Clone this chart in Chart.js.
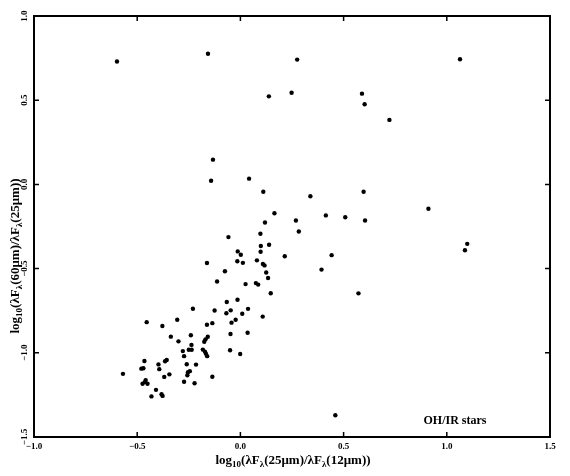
<!DOCTYPE html>
<html><head><meta charset="utf-8">
<script src="https://cdn.jsdelivr.net/npm/chart.js@4/dist/chart.umd.min.js"></script>
<style>html,body{margin:0;padding:0;background:#fff}#wrap{width:570px;height:476px}</style>
</head><body><div id="wrap"><canvas id="c" width="570" height="476"></canvas></div>
<script>
// log10(λFλ(25μm)/λFλ(12μm))
const xColor = [
 -0.598,-0.157,0.275,0.138,0.248,1.064,0.589,0.602,0.722,-0.133,-0.142,0.042,0.111,0.339,0.597,0.911,
 0.269,0.283,0.414,0.508,0.604,1.088,1.099,0.442,0.393,0.572,0.460,
 0.165,0.119,-0.058,0.097,0.099,0.139,-0.013,0.002,0.098,0.215,-0.015,0.012,0.080,0.109,0.117,-0.162,
 -0.075,0.125,0.134,-0.113,0.025,0.075,0.086,0.147,-0.066,-0.014,-0.230,-0.125,-0.068,-0.047,0.037,0.009,
 0.108,-0.023,-0.043,-0.454,-0.378,-0.306,-0.162,-0.136,-0.048,0.035,-0.337,-0.300,-0.240,-0.237,-0.158,
 -0.169,-0.175,-0.250,-0.236,-0.279,-0.273,-0.182,-0.172,-0.167,-0.161,-0.050,-0.001,-0.465,-0.470,-0.480,
 -0.397,-0.365,-0.357,-0.393,-0.260,-0.215,-0.344,-0.369,-0.569,-0.459,-0.474,-0.450,-0.463,-0.254,-0.245,
 -0.257,-0.273,-0.222,-0.136,-0.409,-0.431,-0.382,-0.377
];
// log10(λFλ(60μm)/λFλ(25μm))
const yColor = [
 0.730,0.776,0.741,0.523,0.544,0.743,0.539,0.476,0.383,0.147,0.022,0.034,-0.044,-0.070,-0.044,-0.145,
 -0.214,-0.280,-0.184,-0.195,-0.214,-0.391,-0.353,-0.420,-0.506,-0.647,-1.371,
 -0.171,-0.226,-0.313,-0.293,-0.366,-0.358,-0.398,-0.418,-0.400,-0.427,-0.456,-0.466,-0.451,-0.473,-0.481,-0.467,
 -0.516,-0.523,-0.556,-0.577,-0.592,-0.586,-0.595,-0.646,-0.698,-0.685,-0.738,-0.749,-0.765,-0.748,-0.739,-0.768,
 -0.785,-0.804,-0.821,-0.818,-0.841,-0.804,-0.833,-0.824,-0.888,-0.881,-0.904,-0.932,-0.896,-0.953,-0.905,
 -0.920,-0.934,-0.982,-0.982,-0.990,-1.020,-0.981,-0.993,-1.005,-1.020,-0.985,-1.007,-1.049,-1.092,-1.094,
 -1.069,-1.050,-1.043,-1.097,-1.068,-1.070,-1.128,-1.143,-1.125,-1.162,-1.184,-1.184,-1.174,-1.115,-1.109,
 -1.133,-1.172,-1.181,-1.142,-1.220,-1.259,-1.246,-1.256
];
const xTickValues = [-1.0, -0.5, 0.0, 0.5, 1.0, 1.5];
const yTickValues = [-1.5, -1.0, -0.5, 0.0, 0.5, 1.0];
const xTitleParts = [['log',0],['10',1],['(\u03bbF',0],['\u03bb',1],['(25\u03bcm)/\u03bbF',0],['\u03bb',1],['(12\u03bcm))',0]];
const yTitleParts = [['log',0],['10',1],['(\u03bbF',0],['\u03bb',1],['(60\u03bcm)/\u03bbF',0],['\u03bb',1],['(25\u03bcm))',0]];
const panelLabel = 'OH/IR stars';

const points = xColor.map((x, i) => ({x: x, y: yColor[i]}));
const fmt = v => { const s = Math.abs(v).toFixed(1); return v < -1e-9 ? '\u2212' + s : s; };
const FONT = '"Liberation Serif", "DejaVu Serif", serif';

function drawRich(ctx, parts, cx, cy, rot, size) {
  ctx.save();
  ctx.translate(cx, cy); ctx.rotate(rot);
  const mainF = 'bold ' + size + 'px ' + FONT;
  const subF = 'bold ' + Math.round(size * 0.68) + 'px ' + FONT;
  let w = 0;
  parts.forEach(p => { ctx.font = p[1] ? subF : mainF; w += ctx.measureText(p[0]).width; });
  let x = -w / 2;
  ctx.fillStyle = '#000'; ctx.textBaseline = 'alphabetic'; ctx.textAlign = 'left';
  parts.forEach(p => {
    ctx.font = p[1] ? subF : mainF;
    ctx.fillText(p[0], x, p[1] ? size * 0.35 + size * 0.3 : size * 0.35);
    x += ctx.measureText(p[0]).width;
  });
  ctx.restore();
}

const framePlugin = {
  id: 'frame',
  afterDraw(chart) {
    const ctx = chart.ctx, a = chart.chartArea, sx = chart.scales.x, sy = chart.scales.y;
    ctx.save();
    ctx.strokeStyle = '#000'; ctx.lineWidth = 2;
    ctx.strokeRect(a.left, a.top, a.right - a.left, a.bottom - a.top);
    ctx.lineWidth = 1.5;
    ctx.beginPath();
    xTickValues.forEach(v => { const p = sx.getPixelForValue(v);
      ctx.moveTo(p, a.bottom); ctx.lineTo(p, a.bottom - 5);
      ctx.moveTo(p, a.top); ctx.lineTo(p, a.top + 5); });
    yTickValues.forEach(v => { const p = sy.getPixelForValue(v);
      ctx.moveTo(a.left, p); ctx.lineTo(a.left + 5, p);
      ctx.moveTo(a.right, p); ctx.lineTo(a.right - 5, p); });
    ctx.stroke();
    drawRich(ctx, xTitleParts, 293, 459, 0, 13);
    drawRich(ctx, yTitleParts, 14, 256, -Math.PI / 2, 13);
    ctx.font = 'bold 12px ' + FONT; ctx.fillStyle = '#000';
    ctx.textAlign = 'center'; ctx.textBaseline = 'middle';
    ctx.fillText(panelLabel, 455, 421);
    ctx.restore();
  }
};

new Chart(document.getElementById('c'), {
  type: 'scatter',
  data: { datasets: [{ data: points, backgroundColor: '#000', borderWidth: 0, pointRadius: 2.2, pointHoverRadius: 2.2 }] },
  options: {
    responsive: false, animation: false, devicePixelRatio: 1,
    layout: { padding: { top: 16, right: 20, left: 0, bottom: 0 } },
    plugins: { legend: { display: false }, tooltip: { enabled: false } },
    scales: {
      x: { type: 'linear', min: -1.0, max: 1.5,
        afterBuildTicks: s => { s.ticks = xTickValues.map(v => ({ value: v })); },
        afterFit: s => { s.height = 39; },
        grid: { display: false, drawTicks: false }, border: { display: false },
        ticks: { callback: v => fmt(v), color: '#000', padding: 4, maxRotation: 0, autoSkip: false,
          font: { family: FONT, weight: 'bold', size: 9 } } },
      y: { type: 'linear', min: -1.5, max: 1.0,
        afterBuildTicks: s => { s.ticks = yTickValues.map(v => ({ value: v })); },
        afterFit: s => { s.width = 34; },
        grid: { display: false, drawTicks: false }, border: { display: false },
        ticks: { callback: v => fmt(v), color: '#000', padding: 1, minRotation: 90, maxRotation: 90,
          crossAlign: 'center', autoSkip: false, font: { family: FONT, weight: 'bold', size: 9 } } }
    }
  },
  plugins: [framePlugin]
});
</script></body></html>
